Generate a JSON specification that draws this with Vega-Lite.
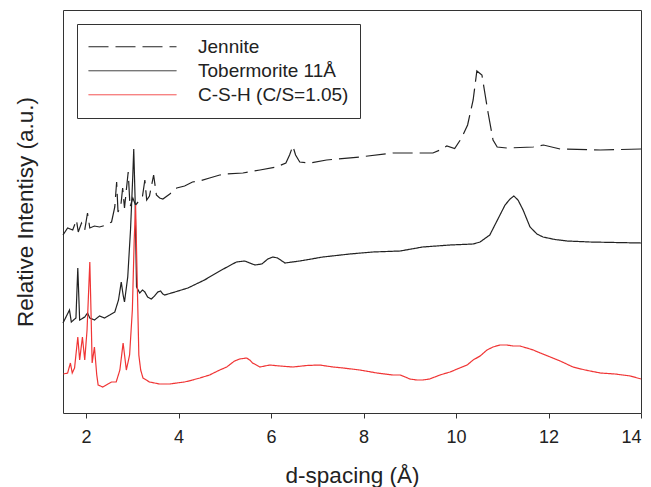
{
  "$schema": "https://vega.github.io/schema/vega-lite/v6.json",
  "width": 578,
  "height": 403,
  "autosize": {"type": "none"},
  "padding": {"left": 63, "top": 10, "right": 10, "bottom": 74},
  "background": "white",
  "config": {"view": {"stroke": "#333333", "strokeWidth": 1}, "font": "Liberation Sans"},
  "datasets": {
    "xrd": [
      {"sample": "Jennite", "d": 1.50, "i": 178}, {"sample": "Jennite", "d": 1.60, "i": 185}, {"sample": "Jennite", "d": 1.71, "i": 183}, {"sample": "Jennite", "d": 1.79, "i": 193}, {"sample": "Jennite", "d": 1.83, "i": 181}, {"sample": "Jennite", "d": 1.90, "i": 190}, {"sample": "Jennite", "d": 1.97, "i": 183}, {"sample": "Jennite", "d": 2.03, "i": 200}, {"sample": "Jennite", "d": 2.08, "i": 185}, {"sample": "Jennite", "d": 2.18, "i": 187}, {"sample": "Jennite", "d": 2.29, "i": 186}, {"sample": "Jennite", "d": 2.44, "i": 188}, {"sample": "Jennite", "d": 2.55, "i": 191}, {"sample": "Jennite", "d": 2.62, "i": 206}, {"sample": "Jennite", "d": 2.66, "i": 231}, {"sample": "Jennite", "d": 2.69, "i": 201}, {"sample": "Jennite", "d": 2.75, "i": 207}, {"sample": "Jennite", "d": 2.79, "i": 225}, {"sample": "Jennite", "d": 2.83, "i": 205}, {"sample": "Jennite", "d": 2.91, "i": 241}, {"sample": "Jennite", "d": 2.95, "i": 206}, {"sample": "Jennite", "d": 3.01, "i": 215}, {"sample": "Jennite", "d": 3.07, "i": 208}, {"sample": "Jennite", "d": 3.16, "i": 213}, {"sample": "Jennite", "d": 3.22, "i": 217}, {"sample": "Jennite", "d": 3.27, "i": 233}, {"sample": "Jennite", "d": 3.31, "i": 213}, {"sample": "Jennite", "d": 3.37, "i": 217}, {"sample": "Jennite", "d": 3.46, "i": 238}, {"sample": "Jennite", "d": 3.52, "i": 218}, {"sample": "Jennite", "d": 3.59, "i": 215}, {"sample": "Jennite", "d": 3.66, "i": 214}, {"sample": "Jennite", "d": 3.81, "i": 219}, {"sample": "Jennite", "d": 3.96, "i": 225}, {"sample": "Jennite", "d": 4.13, "i": 227}, {"sample": "Jennite", "d": 4.30, "i": 231}, {"sample": "Jennite", "d": 4.46, "i": 232}, {"sample": "Jennite", "d": 4.67, "i": 235}, {"sample": "Jennite", "d": 4.89, "i": 238}, {"sample": "Jennite", "d": 5.04, "i": 239}, {"sample": "Jennite", "d": 5.39, "i": 240}, {"sample": "Jennite", "d": 5.76, "i": 243}, {"sample": "Jennite", "d": 6.12, "i": 246}, {"sample": "Jennite", "d": 6.32, "i": 250}, {"sample": "Jennite", "d": 6.40, "i": 258}, {"sample": "Jennite", "d": 6.47, "i": 267}, {"sample": "Jennite", "d": 6.53, "i": 258}, {"sample": "Jennite", "d": 6.62, "i": 251}, {"sample": "Jennite", "d": 6.84, "i": 250}, {"sample": "Jennite", "d": 7.20, "i": 253}, {"sample": "Jennite", "d": 7.92, "i": 256}, {"sample": "Jennite", "d": 8.63, "i": 260}, {"sample": "Jennite", "d": 9.50, "i": 260}, {"sample": "Jennite", "d": 9.65, "i": 263}, {"sample": "Jennite", "d": 9.80, "i": 267}, {"sample": "Jennite", "d": 9.97, "i": 264.5}, {"sample": "Jennite", "d": 10.12, "i": 275}, {"sample": "Jennite", "d": 10.25, "i": 288}, {"sample": "Jennite", "d": 10.37, "i": 313}, {"sample": "Jennite", "d": 10.45, "i": 342}, {"sample": "Jennite", "d": 10.56, "i": 338}, {"sample": "Jennite", "d": 10.63, "i": 318}, {"sample": "Jennite", "d": 10.69, "i": 301}, {"sample": "Jennite", "d": 10.80, "i": 273}, {"sample": "Jennite", "d": 10.89, "i": 266}, {"sample": "Jennite", "d": 11.10, "i": 265}, {"sample": "Jennite", "d": 11.67, "i": 266}, {"sample": "Jennite", "d": 11.89, "i": 268}, {"sample": "Jennite", "d": 12.25, "i": 264}, {"sample": "Jennite", "d": 13.12, "i": 263}, {"sample": "Jennite", "d": 14.0, "i": 264},

      {"sample": "Tobermorite 11Å", "d": 1.50, "i": 90}, {"sample": "Tobermorite 11Å", "d": 1.64, "i": 103}, {"sample": "Tobermorite 11Å", "d": 1.68, "i": 91}, {"sample": "Tobermorite 11Å", "d": 1.78, "i": 95}, {"sample": "Tobermorite 11Å", "d": 1.82, "i": 145}, {"sample": "Tobermorite 11Å", "d": 1.86, "i": 93}, {"sample": "Tobermorite 11Å", "d": 1.97, "i": 96}, {"sample": "Tobermorite 11Å", "d": 2.03, "i": 100}, {"sample": "Tobermorite 11Å", "d": 2.08, "i": 95}, {"sample": "Tobermorite 11Å", "d": 2.18, "i": 93}, {"sample": "Tobermorite 11Å", "d": 2.29, "i": 97}, {"sample": "Tobermorite 11Å", "d": 2.40, "i": 95}, {"sample": "Tobermorite 11Å", "d": 2.51, "i": 98}, {"sample": "Tobermorite 11Å", "d": 2.62, "i": 101}, {"sample": "Tobermorite 11Å", "d": 2.70, "i": 113}, {"sample": "Tobermorite 11Å", "d": 2.76, "i": 131}, {"sample": "Tobermorite 11Å", "d": 2.80, "i": 118}, {"sample": "Tobermorite 11Å", "d": 2.83, "i": 111}, {"sample": "Tobermorite 11Å", "d": 2.90, "i": 136}, {"sample": "Tobermorite 11Å", "d": 2.96, "i": 183}, {"sample": "Tobermorite 11Å", "d": 3.01, "i": 238}, {"sample": "Tobermorite 11Å", "d": 3.03, "i": 264}, {"sample": "Tobermorite 11Å", "d": 3.06, "i": 213}, {"sample": "Tobermorite 11Å", "d": 3.09, "i": 126}, {"sample": "Tobermorite 11Å", "d": 3.16, "i": 120}, {"sample": "Tobermorite 11Å", "d": 3.22, "i": 123}, {"sample": "Tobermorite 11Å", "d": 3.27, "i": 121}, {"sample": "Tobermorite 11Å", "d": 3.33, "i": 116}, {"sample": "Tobermorite 11Å", "d": 3.41, "i": 114}, {"sample": "Tobermorite 11Å", "d": 3.48, "i": 117}, {"sample": "Tobermorite 11Å", "d": 3.55, "i": 121}, {"sample": "Tobermorite 11Å", "d": 3.61, "i": 122}, {"sample": "Tobermorite 11Å", "d": 3.66, "i": 119}, {"sample": "Tobermorite 11Å", "d": 3.70, "i": 118}, {"sample": "Tobermorite 11Å", "d": 3.92, "i": 121}, {"sample": "Tobermorite 11Å", "d": 4.20, "i": 125}, {"sample": "Tobermorite 11Å", "d": 4.56, "i": 133}, {"sample": "Tobermorite 11Å", "d": 4.93, "i": 143}, {"sample": "Tobermorite 11Å", "d": 5.25, "i": 151}, {"sample": "Tobermorite 11Å", "d": 5.43, "i": 152}, {"sample": "Tobermorite 11Å", "d": 5.65, "i": 148}, {"sample": "Tobermorite 11Å", "d": 5.80, "i": 149}, {"sample": "Tobermorite 11Å", "d": 5.93, "i": 154}, {"sample": "Tobermorite 11Å", "d": 6.04, "i": 156}, {"sample": "Tobermorite 11Å", "d": 6.14, "i": 155}, {"sample": "Tobermorite 11Å", "d": 6.30, "i": 150}, {"sample": "Tobermorite 11Å", "d": 6.62, "i": 152}, {"sample": "Tobermorite 11Å", "d": 7.12, "i": 156}, {"sample": "Tobermorite 11Å", "d": 7.70, "i": 159}, {"sample": "Tobermorite 11Å", "d": 8.20, "i": 161}, {"sample": "Tobermorite 11Å", "d": 8.79, "i": 162}, {"sample": "Tobermorite 11Å", "d": 9.28, "i": 166}, {"sample": "Tobermorite 11Å", "d": 9.87, "i": 168}, {"sample": "Tobermorite 11Å", "d": 10.37, "i": 169}, {"sample": "Tobermorite 11Å", "d": 10.52, "i": 171}, {"sample": "Tobermorite 11Å", "d": 10.73, "i": 178}, {"sample": "Tobermorite 11Å", "d": 10.84, "i": 188}, {"sample": "Tobermorite 11Å", "d": 10.95, "i": 198}, {"sample": "Tobermorite 11Å", "d": 11.06, "i": 208}, {"sample": "Tobermorite 11Å", "d": 11.17, "i": 214}, {"sample": "Tobermorite 11Å", "d": 11.25, "i": 217}, {"sample": "Tobermorite 11Å", "d": 11.34, "i": 213}, {"sample": "Tobermorite 11Å", "d": 11.45, "i": 203}, {"sample": "Tobermorite 11Å", "d": 11.60, "i": 186}, {"sample": "Tobermorite 11Å", "d": 11.75, "i": 179}, {"sample": "Tobermorite 11Å", "d": 11.88, "i": 176}, {"sample": "Tobermorite 11Å", "d": 12.14, "i": 173.5}, {"sample": "Tobermorite 11Å", "d": 12.40, "i": 172}, {"sample": "Tobermorite 11Å", "d": 12.90, "i": 171}, {"sample": "Tobermorite 11Å", "d": 13.44, "i": 170.5}, {"sample": "Tobermorite 11Å", "d": 14.0, "i": 170},

      {"sample": "C-S-H (C/S=1.05)", "d": 1.51, "i": 39}, {"sample": "C-S-H (C/S=1.05)", "d": 1.60, "i": 40}, {"sample": "C-S-H (C/S=1.05)", "d": 1.66, "i": 50}, {"sample": "C-S-H (C/S=1.05)", "d": 1.70, "i": 40}, {"sample": "C-S-H (C/S=1.05)", "d": 1.75, "i": 45}, {"sample": "C-S-H (C/S=1.05)", "d": 1.82, "i": 76}, {"sample": "C-S-H (C/S=1.05)", "d": 1.86, "i": 53}, {"sample": "C-S-H (C/S=1.05)", "d": 1.92, "i": 76}, {"sample": "C-S-H (C/S=1.05)", "d": 1.97, "i": 53}, {"sample": "C-S-H (C/S=1.05)", "d": 2.02, "i": 83}, {"sample": "C-S-H (C/S=1.05)", "d": 2.08, "i": 151}, {"sample": "C-S-H (C/S=1.05)", "d": 2.11, "i": 93}, {"sample": "C-S-H (C/S=1.05)", "d": 2.13, "i": 50}, {"sample": "C-S-H (C/S=1.05)", "d": 2.18, "i": 66}, {"sample": "C-S-H (C/S=1.05)", "d": 2.23, "i": 38}, {"sample": "C-S-H (C/S=1.05)", "d": 2.26, "i": 28}, {"sample": "C-S-H (C/S=1.05)", "d": 2.36, "i": 26}, {"sample": "C-S-H (C/S=1.05)", "d": 2.47, "i": 29}, {"sample": "C-S-H (C/S=1.05)", "d": 2.55, "i": 31}, {"sample": "C-S-H (C/S=1.05)", "d": 2.65, "i": 31}, {"sample": "C-S-H (C/S=1.05)", "d": 2.73, "i": 43}, {"sample": "C-S-H (C/S=1.05)", "d": 2.80, "i": 70}, {"sample": "C-S-H (C/S=1.05)", "d": 2.87, "i": 43}, {"sample": "C-S-H (C/S=1.05)", "d": 2.94, "i": 58}, {"sample": "C-S-H (C/S=1.05)", "d": 3.00, "i": 103}, {"sample": "C-S-H (C/S=1.05)", "d": 3.04, "i": 173}, {"sample": "C-S-H (C/S=1.05)", "d": 3.07, "i": 208}, {"sample": "C-S-H (C/S=1.05)", "d": 3.10, "i": 143}, {"sample": "C-S-H (C/S=1.05)", "d": 3.14, "i": 58}, {"sample": "C-S-H (C/S=1.05)", "d": 3.18, "i": 43}, {"sample": "C-S-H (C/S=1.05)", "d": 3.23, "i": 35}, {"sample": "C-S-H (C/S=1.05)", "d": 3.37, "i": 31}, {"sample": "C-S-H (C/S=1.05)", "d": 3.59, "i": 29}, {"sample": "C-S-H (C/S=1.05)", "d": 3.81, "i": 29}, {"sample": "C-S-H (C/S=1.05)", "d": 3.96, "i": 30}, {"sample": "C-S-H (C/S=1.05)", "d": 4.13, "i": 31}, {"sample": "C-S-H (C/S=1.05)", "d": 4.30, "i": 33}, {"sample": "C-S-H (C/S=1.05)", "d": 4.46, "i": 35}, {"sample": "C-S-H (C/S=1.05)", "d": 4.67, "i": 38}, {"sample": "C-S-H (C/S=1.05)", "d": 4.89, "i": 43}, {"sample": "C-S-H (C/S=1.05)", "d": 5.04, "i": 46}, {"sample": "C-S-H (C/S=1.05)", "d": 5.21, "i": 52}, {"sample": "C-S-H (C/S=1.05)", "d": 5.32, "i": 54}, {"sample": "C-S-H (C/S=1.05)", "d": 5.47, "i": 55}, {"sample": "C-S-H (C/S=1.05)", "d": 5.54, "i": 53}, {"sample": "C-S-H (C/S=1.05)", "d": 5.60, "i": 50}, {"sample": "C-S-H (C/S=1.05)", "d": 5.76, "i": 46}, {"sample": "C-S-H (C/S=1.05)", "d": 5.97, "i": 48}, {"sample": "C-S-H (C/S=1.05)", "d": 6.19, "i": 47}, {"sample": "C-S-H (C/S=1.05)", "d": 6.47, "i": 46}, {"sample": "C-S-H (C/S=1.05)", "d": 6.77, "i": 47.5}, {"sample": "C-S-H (C/S=1.05)", "d": 7.05, "i": 48}, {"sample": "C-S-H (C/S=1.05)", "d": 7.34, "i": 46}, {"sample": "C-S-H (C/S=1.05)", "d": 7.56, "i": 45}, {"sample": "C-S-H (C/S=1.05)", "d": 7.92, "i": 43}, {"sample": "C-S-H (C/S=1.05)", "d": 8.29, "i": 40}, {"sample": "C-S-H (C/S=1.05)", "d": 8.63, "i": 38}, {"sample": "C-S-H (C/S=1.05)", "d": 8.79, "i": 38}, {"sample": "C-S-H (C/S=1.05)", "d": 8.90, "i": 36}, {"sample": "C-S-H (C/S=1.05)", "d": 9.00, "i": 34}, {"sample": "C-S-H (C/S=1.05)", "d": 9.15, "i": 33}, {"sample": "C-S-H (C/S=1.05)", "d": 9.28, "i": 33}, {"sample": "C-S-H (C/S=1.05)", "d": 9.43, "i": 34}, {"sample": "C-S-H (C/S=1.05)", "d": 9.65, "i": 38}, {"sample": "C-S-H (C/S=1.05)", "d": 9.87, "i": 41}, {"sample": "C-S-H (C/S=1.05)", "d": 10.08, "i": 45}, {"sample": "C-S-H (C/S=1.05)", "d": 10.24, "i": 48}, {"sample": "C-S-H (C/S=1.05)", "d": 10.37, "i": 53}, {"sample": "C-S-H (C/S=1.05)", "d": 10.52, "i": 57}, {"sample": "C-S-H (C/S=1.05)", "d": 10.67, "i": 63}, {"sample": "C-S-H (C/S=1.05)", "d": 10.80, "i": 66}, {"sample": "C-S-H (C/S=1.05)", "d": 10.95, "i": 68}, {"sample": "C-S-H (C/S=1.05)", "d": 11.10, "i": 68}, {"sample": "C-S-H (C/S=1.05)", "d": 11.23, "i": 67}, {"sample": "C-S-H (C/S=1.05)", "d": 11.38, "i": 67}, {"sample": "C-S-H (C/S=1.05)", "d": 11.53, "i": 65}, {"sample": "C-S-H (C/S=1.05)", "d": 11.67, "i": 63}, {"sample": "C-S-H (C/S=1.05)", "d": 11.82, "i": 60}, {"sample": "C-S-H (C/S=1.05)", "d": 12.04, "i": 56}, {"sample": "C-S-H (C/S=1.05)", "d": 12.25, "i": 52}, {"sample": "C-S-H (C/S=1.05)", "d": 12.53, "i": 46}, {"sample": "C-S-H (C/S=1.05)", "d": 12.79, "i": 43}, {"sample": "C-S-H (C/S=1.05)", "d": 13.12, "i": 40}, {"sample": "C-S-H (C/S=1.05)", "d": 13.44, "i": 39}, {"sample": "C-S-H (C/S=1.05)", "d": 13.77, "i": 37}, {"sample": "C-S-H (C/S=1.05)", "d": 14.0, "i": 34}
    ]
  },
  "data": {"name": "xrd"},
  "mark": {"type": "line", "strokeWidth": 1.2},
  "encoding": {
    "x": {
      "field": "d",
      "type": "quantitative",
      "scale": {"domain": [1.5, 14], "nice": false, "zero": false},
      "axis": {
        "title": "d-spacing (Å)",
        "values": [2, 4, 6, 8, 10, 12, 14],
        "grid": false,
        "domain": false,
        "ticks": true,
        "tickSize": 5,
        "tickColor": "#333333",
        "labelFontSize": 18,
        "labelColor": "#222222",
        "labelPadding": 10,
        "labelFont": "Liberation Sans",
        "titleFont": "Liberation Sans",
        "titleFontSize": 22.5,
        "titleFontWeight": "normal",
        "titleColor": "#222222",
        "titlePadding": 18
      }
    },
    "y": {
      "field": "i",
      "type": "quantitative",
      "scale": {"domain": [0, 403], "nice": false},
      "axis": {
        "title": "Relative Intentisy (a.u.)",
        "grid": false,
        "domain": false,
        "ticks": false,
        "labels": false,
        "titleFont": "Liberation Sans",
        "titleFontSize": 22.5,
        "titleFontWeight": "normal",
        "titleColor": "#222222",
        "titlePadding": 26
      }
    },
    "color": {
      "field": "sample",
      "type": "nominal",
      "scale": {"domain": ["Jennite", "Tobermorite 11Å", "C-S-H (C/S=1.05)"], "range": ["#222222", "#222222", "#f03535"]},
      "legend": {
        "title": null,
        "orient": "none",
        "legendX": 14,
        "legendY": 14,
        "padding": 11,
        "strokeColor": "#333333",
        "fillColor": "white",
        "symbolType": "stroke",
        "symbolSize": 7744,
        "symbolStrokeWidth": 1,
        "symbolOffset": 0,
        "labelOffset": 21,
        "labelFontSize": 19,
        "labelFont": "Liberation Sans",
        "labelColor": "#222222",
        "labelLimit": 400,
        "clipHeight": 23.5,
        "rowPadding": 0
      }
    },
    "strokeDash": {
      "field": "sample",
      "type": "nominal",
      "scale": {"domain": ["Jennite", "Tobermorite 11Å", "C-S-H (C/S=1.05)"], "range": [[20, 7], [1, 0], [1, 0]]},
      "legend": {
        "title": null,
        "orient": "none",
        "legendX": 14,
        "legendY": 14,
        "padding": 11,
        "strokeColor": "#333333",
        "fillColor": "white",
        "symbolType": "stroke",
        "symbolSize": 7744,
        "symbolStrokeWidth": 1,
        "symbolOffset": 0,
        "labelOffset": 21,
        "labelFontSize": 19,
        "labelFont": "Liberation Sans",
        "labelColor": "#222222",
        "labelLimit": 400,
        "clipHeight": 23.5,
        "rowPadding": 0
      }
    }
  }
}
